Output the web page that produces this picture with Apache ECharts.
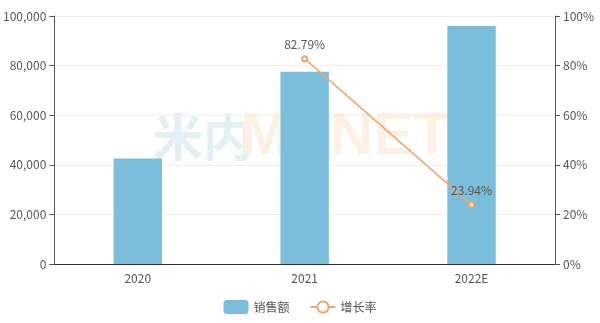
<!DOCTYPE html>
<html><head><meta charset="utf-8">
<script src="https://cdn.jsdelivr.net/npm/echarts@6/dist/echarts.min.js"></script>
<style>html,body{margin:0;padding:0;background:#fff}#c{width:600px;height:323px}</style>
</head><body><div id="c"></div>
<script>
const categories = ['2020', '2021', '2022E'];
const salesValues = [42500, 77500, 96000];
const growthValues = [null, 82.79, 23.94];
const leftTicks = {min: 0, max: 100000, interval: 20000};
const rightTicks = {min: 0, max: 100, interval: 20};

const chart = echarts.init(document.getElementById('c'));
const font = '"Noto Sans CJK SC", "Noto Sans", sans-serif';
chart.setOption({
  animation: false,
  textStyle: {fontFamily: font},
  grid: {left: 53, right: 45, top: 16, bottom: 59},
  graphic: [{
    type: 'text', left: 153, top: 112, z: -10, silent: true,
    style: {text: '米内', fontSize: 50, fontWeight: 'bold', fill: '#e3eff3', fontFamily: font}
  }, {
    type: 'text', left: 240, top: 107, z: -10, silent: true,
    style: {text: 'MENET', fontSize: 60, fontWeight: 'bold', fill: '#fdf1e6', fontFamily: '"Liberation Sans", Arial, sans-serif'}
  }],
  legend: {
    bottom: 4, left: 'center', itemWidth: 25, itemHeight: 14, itemGap: 20,
    textStyle: {color: '#555', fontSize: 12},
    data: [{name: '销售额'}, {name: '增长率'}]
  },
  xAxis: {
    type: 'category', data: categories,
    axisLine: {lineStyle: {color: '#333'}},
    axisTick: {lineStyle: {color: '#333'}},
    axisLabel: {color: '#555', fontSize: 12}
  },
  yAxis: [{
    type: 'value', min: leftTicks.min, max: leftTicks.max, interval: leftTicks.interval,
    axisLine: {show: true, lineStyle: {color: '#555'}},
    axisTick: {show: true, lineStyle: {color: '#555'}},
    axisLabel: {color: '#555', fontSize: 12, formatter: v => v.toLocaleString('en-US')},
    splitLine: {lineStyle: {color: '#eeeeee'}}
  }, {
    type: 'value', min: rightTicks.min, max: rightTicks.max, interval: rightTicks.interval,
    position: 'right',
    axisLine: {show: true, lineStyle: {color: '#555'}},
    axisTick: {show: true, lineStyle: {color: '#555'}},
    axisLabel: {color: '#555', fontSize: 12, formatter: '{value}%'},
    splitLine: {show: false}
  }],
  series: [{
    name: '销售额', type: 'bar', data: salesValues, barWidth: '29%',
    itemStyle: {color: '#7bbdda'}
  }, {
    name: '增长率', type: 'line', yAxisIndex: 1, data: growthValues,
    symbol: 'emptyCircle', symbolSize: 5, connectNulls: true,
    lineStyle: {color: '#f0a56c', width: 1.5},
    itemStyle: {color: '#f0a56c'},
    label: {show: true, position: 'top', distance: 5, color: '#555', fontSize: 12, formatter: p => p.value + '%'}
  }]
});
</script></body></html>
